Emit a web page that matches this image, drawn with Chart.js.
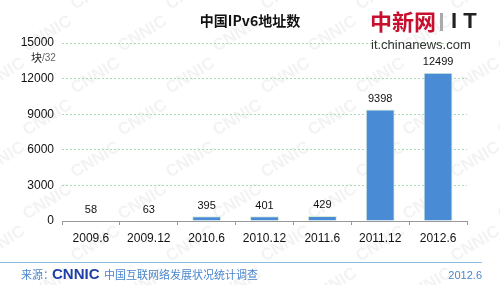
<!DOCTYPE html>
<html>
<head>
<meta charset="utf-8">
<script src="https://cdn.jsdelivr.net/npm/chart.js@4"></script>
<style>
  html, body { margin: 0; padding: 0; background: #fff; }
  #wrap { width: 500px; height: 285px; position: relative; }
</style>
</head>
<body>
<div id="wrap"><canvas id="ipv6Chart" width="500" height="285"></canvas></div>
<script>
// data
const periods = ['2009.6', '2009.12', '2010.6', '2010.12', '2011.6', '2011.12', '2012.6'];
const addressCounts = [58, 63, 395, 401, 429, 9398, 12499];
const yTicks = [0, 3000, 6000, 9000, 12000, 15000];

const cjk = '"Noto Sans CJK SC", "Noto Sans", sans-serif';
const latin = '"Liberation Sans", Arial, sans-serif';

// background CNNIC watermark
const watermark = {
    id: 'watermark',
    beforeDraw(chart) {
        const ctx = chart.ctx;
        ctx.save();
        ctx.fillStyle = '#fff';
        ctx.fillRect(0, 0, chart.width, chart.height);
        ctx.fillStyle = 'rgba(200, 200, 200, 0.22)';
        ctx.font = 'bold 17px ' + latin;
        for (let row = 0; row < 8; row++) {
            for (let col = 0; col < 7; col++) {
                const x = col * 95 + (row % 2) * 47 - 20;
                const y = row * 42 + 10;
                ctx.save();
                ctx.translate(x, y);
                ctx.rotate(-0.55);
                ctx.fillText('CNNIC', 0, 0);
                ctx.restore();
            }
        }
        ctx.restore();
    }
};

// title, logo, unit, footer and value labels
const decorations = {
    id: 'decorations',
    afterDraw(chart) {
        const ctx = chart.ctx;
        ctx.save();

        // title
        ctx.fillStyle = '#111';
        ctx.font = 'bold 14px ' + cjk;
        ctx.textAlign = 'center';
        ctx.textBaseline = 'middle';
        ctx.fillText('中国IPv6地址数', 250, 21);

        // logo top right
        ctx.textAlign = 'left';
        ctx.fillStyle = '#c8102e';
        ctx.font = 'bold 22px ' + cjk;
        ctx.fillText('中新网', 370, 22);
        ctx.fillStyle = '#aaa';
        ctx.fillRect(440, 13, 3, 18);
        ctx.fillStyle = '#222';
        ctx.font = 'bold 22px ' + latin;
        ctx.fillText('I T', 451, 22);
        ctx.fillStyle = '#333';
        ctx.font = '13px ' + latin;
        ctx.fillText('it.chinanews.com', 371, 45);

        // unit
        ctx.font = '11px ' + cjk;
        ctx.fillStyle = '#222';
        ctx.textAlign = 'right';
        ctx.fillText('块', 42, 58);
        ctx.fillStyle = '#666';
        ctx.font = '10px ' + latin;
        ctx.textAlign = 'left';
        ctx.fillText('/32', 42, 58);

        // value labels over the bars
        ctx.fillStyle = '#111';
        ctx.font = '11px ' + latin;
        ctx.textAlign = 'center';
        ctx.textBaseline = 'bottom';
        const meta = chart.getDatasetMeta(0);
        meta.data.forEach((bar, i) => {
            ctx.fillText(String(addressCounts[i]), bar.x, bar.y - 5);
        });

        // footer
        ctx.strokeStyle = '#8fbbe3';
        ctx.lineWidth = 1;
        ctx.beginPath();
        ctx.moveTo(0, 262.5);
        ctx.lineTo(482, 262.5);
        ctx.stroke();

        ctx.textBaseline = 'middle';
        ctx.textAlign = 'left';
        ctx.fillStyle = '#4a86cc';
        ctx.font = '11px ' + cjk;
        ctx.fillText('来源：', 21, 275);
        ctx.fillStyle = '#1d3ea6';
        ctx.font = 'bold 15px ' + latin;
        ctx.fillText('CNNIC', 52, 275);
        ctx.fillStyle = '#4a86cc';
        ctx.font = '11px ' + cjk;
        ctx.fillText('中国互联网络发展状况统计调查', 104, 275);
        ctx.textAlign = 'right';
        ctx.font = '11px ' + latin;
        ctx.fillText('2012.6', 482, 276);

        ctx.restore();
    }
};

const ctx = document.getElementById('ipv6Chart').getContext('2d');
const ipv6Chart = new Chart(ctx, {
    type: 'bar',
    data: {
        labels: periods,
        datasets: [{
            data: addressCounts,
            backgroundColor: '#4a8bd6',
            borderColor: '#d8ecd8',
            borderWidth: 1,
            barPercentage: 0.5,
            categoryPercentage: 1.0
        }]
    },
    options: {
        responsive: false,
        animation: false,
        devicePixelRatio: 1,
        layout: {
            padding: { left: 0, right: 33, top: 43, bottom: 0 }
        },
        plugins: {
            legend: { display: false },
            tooltip: { enabled: false },
            title: { display: false }
        },
        scales: {
            x: {
                afterFit: s => { s.height = 64; },
                border: { color: '#999', width: 1 },
                grid: {
                    offset: true,
                    drawOnChartArea: false,
                    drawTicks: true,
                    tickLength: 4,
                    color: '#999'
                },
                ticks: {
                    color: '#111',
                    padding: 6,
                    font: { family: latin, size: 12 }
                }
            },
            y: {
                min: 0,
                max: 15000,
                afterFit: s => { s.width = 62; },
                afterBuildTicks: s => { s.ticks = yTicks.map(v => ({ value: v })); },
                border: { display: false, dash: [2, 2] },
                grid: {
                    color: ctx => ctx.tick && ctx.tick.value === 0 ? 'rgba(0,0,0,0)' : '#a9dbb4',
                    drawTicks: false
                },
                ticks: {
                    color: '#111',
                    padding: 8,
                    font: { family: latin, size: 12 },
                    callback: v => String(v)
                }
            }
        }
    },
    plugins: [watermark, decorations]
});
</script>
</body>
</html>
